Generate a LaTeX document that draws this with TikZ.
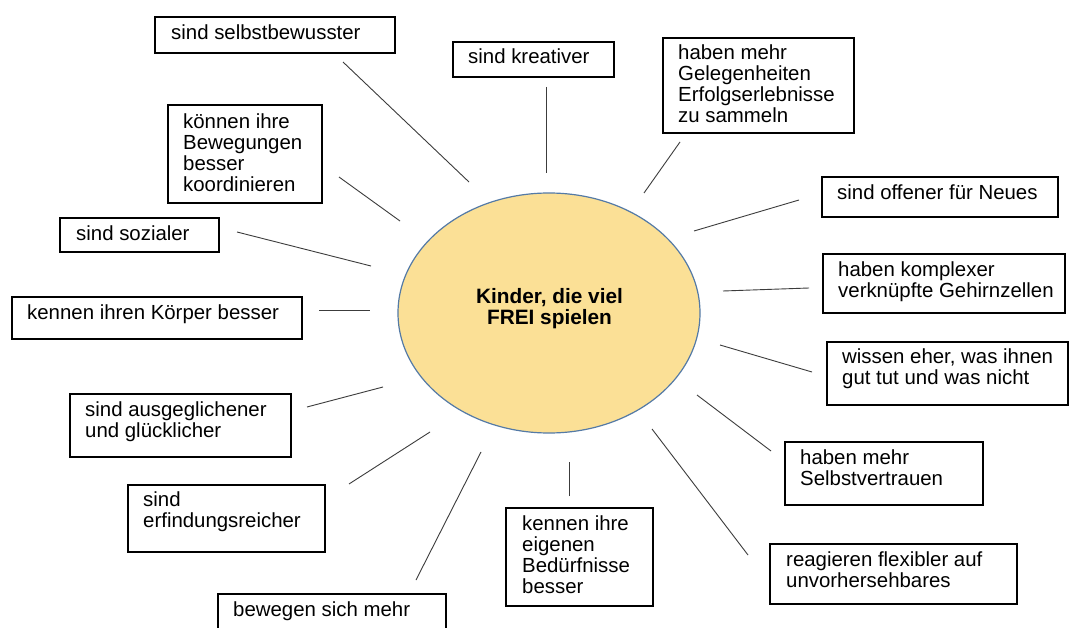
\documentclass[tikz,border=0pt]{standalone}
\usepackage{fontspec}
\setmainfont{Liberation Sans}
\usetikzlibrary{shapes.geometric}
\definecolor{ellfill}{RGB}{251,224,150}
\definecolor{ellline}{RGB}{84,122,166}
\definecolor{conncol}{RGB}{60,60,60}
\begin{document}
\begin{tikzpicture}[x=1pt,y=-1pt,
  box/.style={draw=black, line width=1.6pt, inner sep=0pt, anchor=north west},
  txt/.style={anchor=base west, inner sep=0pt, font=\fontsize{20.4}{21}\selectfont},
  conn/.style={draw=conncol, line width=0.9pt}]
\useasboundingbox[fill=white] (0,0) rectangle (1071,628);

% central ellipse
\node[ellipse, draw=ellline, fill=ellfill, line width=1.2pt, minimum width=302pt, minimum height=240pt, inner sep=0pt] (kern) at (549,313) {};
\node[inner sep=0pt, anchor=base, font=\fontsize{20.8}{21}\selectfont\bfseries] (title) at (549.5,303.5)
  {\vtop{\hbox to 0pt{\hss Kinder, die viel\hss}\hbox to 0pt{\hss FREI spielen\hss}}};

% boxes
\node[box, minimum width=240pt, minimum height=36pt] (b1) at (154,16) {};
\node[txt] (t1) at (171,39.5) {sind selbstbewusster};

\node[box, minimum width=161pt, minimum height=35pt] (b2) at (452,41) {};
\node[txt] (t2) at (468,64) {sind kreativer};

\node[box, minimum width=191pt, minimum height=95pt] (b3) at (662,37) {};
\node[txt] (t3) at (678,59.5) {\vtop{\hbox{haben mehr}\hbox{Gelegenheiten}\hbox{Erfolgserlebnisse}\hbox{zu sammeln}}};

\node[box, minimum width=236pt, minimum height=40pt] (b4) at (821,176) {};
\node[txt] (t4) at (837,199.5) {sind offener für Neues};

\node[box, minimum width=242pt, minimum height=59pt] (b5) at (822,253) {};
\node[txt] (t5) at (838,276.5) {\vtop{\hbox{haben komplexer}\hbox{verknüpfte Gehirnzellen}}};

\node[box, minimum width=241pt, minimum height=63pt] (b6) at (826,341) {};
\node[txt] (t6) at (842,363.5) {\vtop{\hbox{wissen eher, was ihnen}\hbox{gut tut und was nicht}}};

\node[box, minimum width=198pt, minimum height=63pt] (b7) at (784,441) {};
\node[txt] (t7) at (800,464.5) {\vtop{\hbox{haben mehr}\hbox{Selbstvertrauen}}};

\node[box, minimum width=247pt, minimum height=60pt] (b8) at (769,543) {};
\node[txt] (t8) at (786,566.5) {\vtop{\hbox{reagieren flexibler auf}\hbox{unvorhersehbares}}};

\node[box, minimum width=147pt, minimum height=98pt] (b9) at (505,507) {};
\node[txt] (t9) at (522,530.5) {\vtop{\hbox{kennen ihre}\hbox{eigenen}\hbox{Bedürfnisse}\hbox{besser}}};

\node[box, minimum width=228pt, minimum height=60pt] (b10) at (217,593) {};
\node[txt] (t10) at (233,616.5) {bewegen sich mehr};

\node[box, minimum width=159pt, minimum height=34pt] (b11) at (59,217) {};
\node[txt] (t11) at (76,240.5) {sind sozialer};

\node[box, minimum width=290pt, minimum height=42pt] (b12) at (11,296) {};
\node[txt] (t12) at (27,319.5) {kennen ihren Körper besser};

\node[box, minimum width=221pt, minimum height=63pt] (b13) at (69,393) {};
\node[txt] (t13) at (85,416.5) {\vtop{\hbox{sind ausgeglichener}\hbox{und glücklicher}}};

\node[box, minimum width=197pt, minimum height=67pt] (b14) at (127,484) {};
\node[txt] (t14) at (143,506.5) {\vtop{\hbox{sind}\hbox{erfindungsreicher}}};

\node[box, minimum width=154pt, minimum height=98pt] (b15) at (167,104) {};
\node[txt] (t15) at (183,128.5) {\vtop{\hbox{können ihre}\hbox{Bewegungen}\hbox{besser}\hbox{koordinieren}}};

% connector end points
\coordinate (l1a) at (343,62);   \coordinate (l1b) at (469,182);
\coordinate (l2a) at (546,87);   \coordinate (l2b) at (546,173);
\coordinate (l3a) at (680,142);  \coordinate (l3b) at (644,193);
\coordinate (l4a) at (799,200);  \coordinate (l4b) at (694,231);
\coordinate (l5a) at (809,288);  \coordinate (l5b) at (723,291);
\coordinate (l6a) at (812,372);  \coordinate (l6b) at (720,345);
\coordinate (l7a) at (771,451);  \coordinate (l7b) at (697,395);
\coordinate (l8a) at (748,555);  \coordinate (l8b) at (652,429);
\coordinate (l9a) at (569,496);  \coordinate (l9b) at (569,462);
\coordinate (l10a) at (416,580); \coordinate (l10b) at (481,452);
\coordinate (l11a) at (349,484); \coordinate (l11b) at (430,432);
\coordinate (l12a) at (307,407); \coordinate (l12b) at (383,387);
\coordinate (l13a) at (319,310); \coordinate (l13b) at (370,310);
\coordinate (l14a) at (237,232); \coordinate (l14b) at (371,266);
\coordinate (l15a) at (339,177); \coordinate (l15b) at (400,221);

\foreach \i in {1,...,15} {
  \draw[conn] (l\i a) -- (l\i b);
}
\end{tikzpicture}
\end{document}
